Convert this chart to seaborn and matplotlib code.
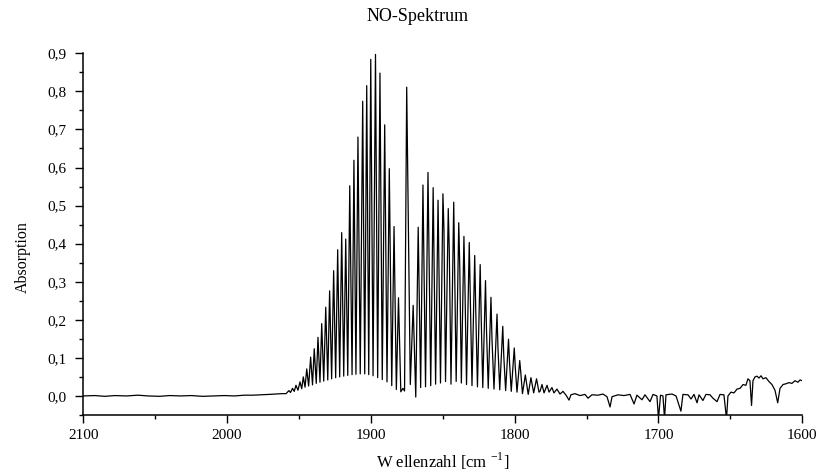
import matplotlib
matplotlib.use("Agg")
import matplotlib.pyplot as plt
import seaborn as sns
import pandas as pd
import numpy as np
from matplotlib.ticker import MultipleLocator, FixedLocator

sns.set_style("ticks")
plt.rcParams['font.family'] = ['Liberation Serif', 'DejaVu Serif']
plt.rcParams['mathtext.fontset'] = 'custom'
plt.rcParams['mathtext.rm'] = 'Liberation Serif'
plt.rcParams['text.color'] = 'black'
plt.rcParams['axes.labelcolor'] = 'black'

# ---- data (wavenumber in cm^-1, absorbance) ----
base_wn = [2100, 2092, 2085, 2078, 2070, 2062, 2055, 2047, 2040, 2032, 2025, 2017,
           2010, 2002, 1995, 1988, 1982, 1976, 1971, 1966, 1962]
base_abs = [0.000, 0.001, -0.001, 0.001, 0.000, 0.002, 0.000, -0.001, 0.001, 0.000,
            0.001, -0.001, 0.000, 0.001, 0.000, 0.002, 0.002, 0.003, 0.004, 0.005, 0.006]

# R-branch line maxima
r_peak_wn = [1957.0, 1954.5, 1952.1, 1949.3, 1947.0, 1944.6, 1941.9, 1939.4, 1936.8,
             1934.2, 1931.4, 1928.7, 1925.9, 1923.1, 1920.3, 1917.5, 1914.7, 1911.8,
             1909.0, 1905.7, 1902.9, 1900.1, 1896.8, 1893.7, 1890.4, 1887.2, 1883.9,
             1880.8]
r_peak_abs = [0.014, 0.020, 0.028, 0.037, 0.050, 0.071, 0.102, 0.124, 0.154,
              0.190, 0.233, 0.276, 0.329, 0.384, 0.429, 0.412, 0.552, 0.619,
              0.680, 0.774, 0.815, 0.884, 0.897, 0.848, 0.712, 0.597, 0.445,
              0.258]

# sharp line near 1875
q_peak_wn = [1875.1]
q_peak_abs = [0.811]

# P-branch line maxima
p_peak_wn = [1870.6, 1867.1, 1863.8, 1860.3, 1856.7, 1853.3, 1849.9, 1846.2, 1842.4,
             1838.9, 1835.3, 1831.6, 1827.8, 1824.0, 1820.3, 1816.5, 1812.3, 1808.3,
             1804.3, 1800.3, 1796.5, 1792.6, 1788.7, 1784.8]
p_peak_abs = [0.238, 0.443, 0.554, 0.587, 0.547, 0.514, 0.531, 0.492, 0.509,
              0.455, 0.419, 0.403, 0.369, 0.345, 0.303, 0.259, 0.215, 0.183,
              0.149, 0.126, 0.093, 0.055, 0.048, 0.045]

# weaker doublet partners of the P-branch lines
p_partner_wn = [1849.2, 1845.5, 1841.7, 1838.2, 1834.6, 1830.9, 1827.1, 1823.3,
                1819.6, 1815.8, 1811.6, 1807.6, 1803.6, 1799.6, 1795.8]
p_partner_abs = [0.438, 0.385, 0.311, 0.342, 0.289, 0.263, 0.228, 0.207,
                 0.172, 0.150, 0.124, 0.106, 0.089, 0.076, 0.063]

# minima between the lines
trough_wn = [1959.0, 1955.9, 1953.3, 1950.7, 1948.1, 1945.8, 1943.3, 1940.6, 1938.0,
             1935.4, 1932.8, 1930.0, 1927.3, 1924.5, 1921.7, 1918.9, 1916.1, 1913.1,
             1910.4, 1907.4, 1904.3, 1901.5, 1898.5, 1895.3, 1892.1, 1888.8, 1885.5,
             1882.3, 1879.2, 1877.7, 1876.6, 1872.6, 1868.8, 1865.4, 1862.0, 1858.4,
             1855.0, 1851.6, 1848.1, 1844.3, 1840.7, 1837.1, 1833.5, 1829.7, 1825.9,
             1822.2, 1818.4, 1814.4, 1810.4, 1806.3, 1802.4, 1798.4, 1794.6, 1790.6,
             1786.8, 1783.1]
trough_abs = [0.006, 0.009, 0.012, 0.015, 0.019, 0.023, 0.026, 0.029, 0.033,
              0.036, 0.039, 0.042, 0.045, 0.048, 0.050, 0.052, 0.054, 0.056,
              0.057, 0.058, 0.058, 0.056, 0.053, 0.048, 0.043, 0.037, 0.027,
              0.017, 0.011, 0.020, 0.013, 0.030, -0.003, 0.022, 0.024, 0.027,
              0.031, 0.034, 0.038, 0.031, 0.038, 0.034, 0.030, 0.027, 0.024,
              0.022, 0.020, 0.018, 0.016, 0.014, 0.012, 0.010, 0.006, 0.004,
              0.008, 0.010]

# noisy tail with water-vapour lines
tail_wn = [1782.4, 1781.0, 1779.6, 1777.5, 1776.1, 1774.1, 1772.7, 1770.6, 1768.5,
           1766.4, 1764.3, 1762.2, 1760.9, 1758.1, 1754.6, 1751.1, 1749.0, 1746.3,
           1742.1, 1738.6, 1735.8, 1733.7, 1732.3, 1728.2, 1724.0, 1719.8, 1717.0,
           1715.0, 1711.5, 1709.4, 1705.9, 1703.8, 1701.1, 1700.0, 1698.6, 1696.9,
           1695.8, 1694.8, 1690.6, 1687.8, 1684.4, 1683.0, 1679.5, 1677.4, 1675.3,
           1673.2, 1671.8, 1669.1, 1667.0, 1664.2, 1662.1, 1659.3, 1657.2, 1654.5,
           1652.7, 1651.7, 1649.6, 1647.5, 1645.4, 1643.3, 1641.2, 1639.2, 1637.8,
           1636.4, 1635.3, 1634.3, 1632.9, 1631.5, 1630.1, 1628.7, 1627.3, 1625.3,
           1623.2, 1621.1, 1619.0, 1617.1, 1615.5, 1613.4, 1611.3, 1609.3, 1607.2,
           1605.1, 1603.0, 1601.6, 1600.0]
tail_abs = [0.012, 0.030, 0.008, 0.028, 0.010, 0.022, 0.008, 0.018, 0.005,
            0.012, 0.002, -0.011, 0.003, 0.006, 0.001, 0.004, -0.006, 0.003,
            0.002, 0.005, -0.002, -0.029, -0.002, 0.003, 0.001, 0.004, -0.021,
            0.002, -0.010, 0.003, -0.015, 0.004, 0.000, -0.060, 0.002, 0.000,
            -0.060, 0.003, 0.005, 0.000, -0.040, 0.004, 0.003, -0.008, 0.004,
            -0.018, 0.003, -0.012, 0.004, 0.003, -0.006, -0.015, 0.004, 0.003,
            -0.060, 0.000, 0.010, 0.008, 0.018, 0.020, 0.030, 0.028, 0.045,
            0.040, -0.025, 0.040, 0.050, 0.052, 0.047, 0.053, 0.045, 0.048,
            0.038, 0.030, 0.015, -0.018, 0.020, 0.030, 0.032, 0.035, 0.033,
            0.040, 0.036, 0.042, 0.040]

x_ticks = [2100, 2000, 1900, 1800, 1700, 1600]
y_ticks = [0.0, 0.1, 0.2, 0.3, 0.4, 0.5, 0.6, 0.7, 0.8, 0.9]
y_tick_labels = ["0,0", "0,1", "0,2", "0,3", "0,4", "0,5", "0,6", "0,7", "0,8", "0,9"]

df = pd.DataFrame({
    "wn": base_wn + r_peak_wn + q_peak_wn + p_peak_wn + p_partner_wn + trough_wn + tail_wn,
    "abs": base_abs + r_peak_abs + q_peak_abs + p_peak_abs + p_partner_abs + trough_abs + tail_abs,
}).sort_values("wn", ascending=False).reset_index(drop=True)

fig = plt.figure(figsize=(8.19, 4.72), dpi=100)
ax = fig.add_axes([0.1017, 0.1208, 0.8779, 0.7663])

sns.lineplot(data=df, x="wn", y="abs", ax=ax, color="black", linewidth=0.9,
             estimator=None, sort=False)

ax.set_xlim(2100, 1600)
ax.set_ylim(-0.05, 0.9)
ax.xaxis.set_major_locator(FixedLocator(x_ticks))
ax.xaxis.set_minor_locator(MultipleLocator(50))
ax.set_yticks(y_ticks)
ax.set_yticklabels(y_tick_labels)
ax.yaxis.set_minor_locator(MultipleLocator(0.05))

for s in ["top", "right"]:
    ax.spines[s].set_visible(False)
for s in ["left", "bottom"]:
    ax.spines[s].set_linewidth(1.1)
    ax.spines[s].set_color("black")

ax.tick_params(axis="both", which="major", direction="out", length=6, width=1.0,
               colors="black", labelsize=11)
ax.tick_params(axis="both", which="minor", direction="out", length=3, width=1.0,
               colors="black")
ax.tick_params(axis="y", pad=6)
ax.tick_params(axis="x", pad=4)

ax.set_xlabel("W ellenzahl [cm $^{-1}$]", fontsize=12)
ax.set_ylabel("Absorption", fontsize=11.5)
ax.xaxis.set_label_coords(0.5, -0.1)
ax.yaxis.set_label_coords(-0.073, 0.436)
ax.set_title("NO-Spektrum", fontsize=13, x=0.465, y=1.065)

fig.savefig("out.png", dpi=100)
